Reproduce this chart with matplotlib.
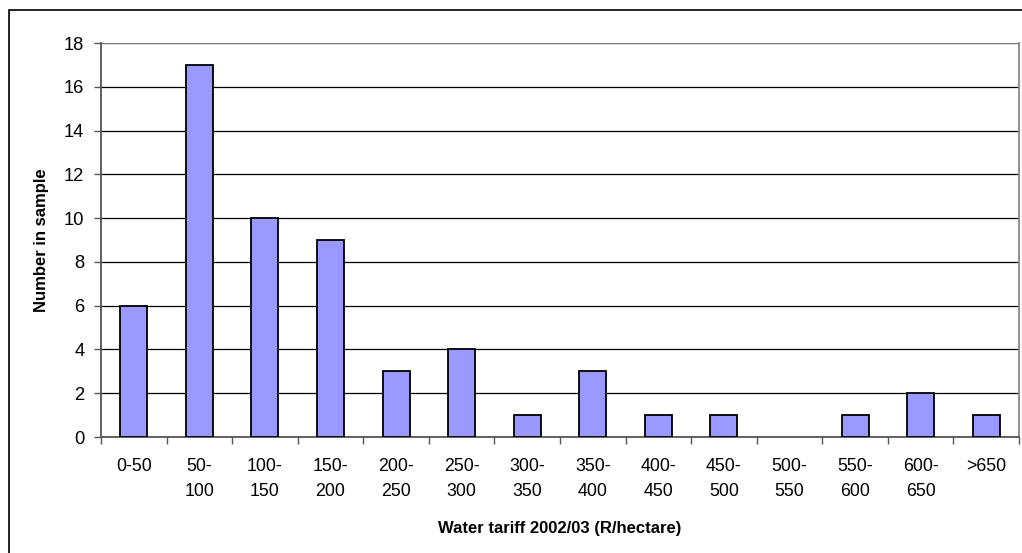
import matplotlib
matplotlib.use("Agg")
import matplotlib.pyplot as plt
from matplotlib.patches import Rectangle
import numpy as np

categories = ["0-50", "50-\n100", "100-\n150", "150-\n200", "200-\n250", "250-\n300", "300-\n350",
              "350-\n400", "400-\n450", "450-\n500", "500-\n550", "550-\n600", "600-\n650", ">650"]
counts = [6, 17, 10, 9, 3, 4, 1, 3, 1, 1, 0, 1, 2, 1]
yticks = [0, 2, 4, 6, 8, 10, 12, 14, 16, 18]

plt.rcParams['font.family'] = ['Liberation Sans', 'DejaVu Sans']

W, H = 1022, 553
fig = plt.figure(figsize=(W / 100, H / 100), dpi=100)
left, right, top, bottom = 101, 1019, 43, 437
ax = fig.add_axes([left / W, 1 - bottom / H, (right - left) / W, (bottom - top) / H])

# outer frame
fig.patches.append(Rectangle((9 / W, -0.05), 1.2, 1 - 10 / H + 0.05, transform=fig.transFigure,
                             fill=False, edgecolor='black', linewidth=1.2))

x = np.arange(len(categories))
edges = ['black' if v > 0 else 'none' for v in counts]
ax.bar(x, counts, width=0.41, color='#9999FF', edgecolor=edges, linewidth=1.3, zorder=3)
ax.set_xlim(-0.5, len(categories) - 0.5)
ax.set_ylim(0, 18)
ax.set_yticks(yticks)
ax.set_yticklabels([str(v) for v in yticks], fontsize=13.2)
ax.yaxis.grid(True, color='black', linewidth=0.9, zorder=0)
ax.set_axisbelow(True)

ax.set_xticks(np.arange(len(categories) + 1) - 0.5)
ax.set_xticklabels([])
ax.set_xticks(x, minor=True)
ax.set_xticklabels(categories, minor=True, fontsize=12.8, linespacing=1.6)
ax.tick_params(axis='x', which='minor', length=0, pad=15)
ax.tick_params(axis='x', which='major', length=5, width=1, color='#555555', direction='out')
ax.tick_params(axis='y', length=5, width=1, color='#555555', direction='out', pad=7)
for lbl in ax.get_xticklabels(minor=True):
    lbl.set_verticalalignment('top')

for s in ['left', 'bottom']:
    ax.spines[s].set_color('#555555')
    ax.spines[s].set_linewidth(1.3)
for s in ['top', 'right']:
    ax.spines[s].set_color('#888888')
    ax.spines[s].set_linewidth(1.3)
ax.spines['top'].set_visible(False)
ax.axhline(18, color='#888888', linewidth=1.3, zorder=1)

fig.text(560 / W, 1 - 529 / H, "Water tariff 2002/03 (R/hectare)", ha='center', va='center',
         fontsize=12, fontweight='bold')
fig.text(42 / W, 1 - 240 / H, "Number in sample", ha='center', va='center', rotation=90,
         fontsize=12, fontweight='bold')

fig.savefig("out.png", dpi=100)
